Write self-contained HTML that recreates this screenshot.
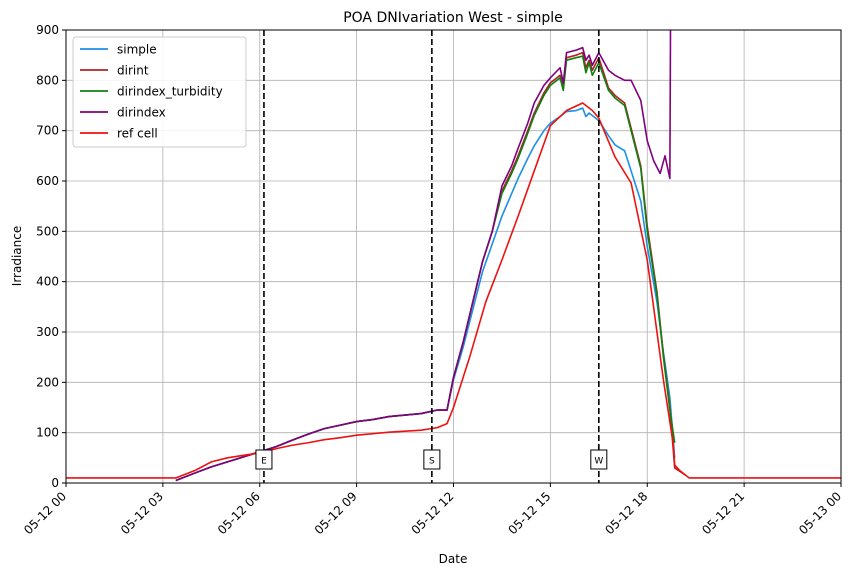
<!DOCTYPE html>
<html><head><meta charset="utf-8"><style>
body{margin:0;background:#fff;font-family:"Liberation Sans","DejaVu Sans",sans-serif}
svg text{font-family:"DejaVu Sans","Liberation Sans",sans-serif}
</style></head><body>
<svg id="chart" width="850" height="576" viewBox="0 0 850 576" xmlns="http://www.w3.org/2000/svg">
<rect width="850" height="576" fill="#fff"/>
<g id="grid"></g>
<g id="series"></g>
<g id="markers"></g>
<rect x="66" y="30" width="775" height="453" fill="none" stroke="#000" stroke-width="1"/>
<g id="axes"></g>
<text x="453" y="22" text-anchor="middle" font-size="14">POA DNIvariation West - simple</text>
<text x="453" y="563" text-anchor="middle" font-size="12">Date</text>
<text transform="translate(21,256) rotate(-90)" text-anchor="middle" font-size="12">Irradiance</text>
<g id="legend"></g>
</svg>
<script>
const xTicks=[0,3,6,9,12,15,18,21,24];
const xTickLabels=["05-12 00","05-12 03","05-12 06","05-12 09","05-12 12","05-12 15","05-12 18","05-12 21","05-13 00"];
const yTicks=[0,100,200,300,400,500,600,700,800,900];
const seriesNames=["simple","dirint","dirindex_turbidity","dirindex","ref cell"];
const seriesColors=["#1f8fe6","#b22222","#108010","#800080","#ee1111"];
const markerTimes=[6.13,11.33,16.5];
const markerLabels=["E","S","W"];
const tCommon=[3.4,4,4.5,5,5.5,6,6.5,7,7.5,8,8.5,9,9.5,10,10.5,11,11.5,11.8];
const vCommon=[5,20,32,42,52,62,72,85,97,108,115,122,126,132,135,138,145,145];
const tRise=[12,12.3,12.6,12.9,13.2];
const riseA=[210,280,360,440,500];
const riseSimple=[205,270,345,420,475];
const simpleT=[13.5,13.8,14,14.3,14.5,14.8,15,15.3,15.5,15.8,16,16.1,16.2,16.5,16.8,17,17.3,17.5,17.8,18,18.3,18.5,18.7,18.85];
const simpleV=[530,575,605,645,670,700,715,728,738,740,745,728,735,720,690,672,660,620,560,470,360,260,170,50];
const dirT=[13.5,13.8,14,14.3,14.5,14.8,15,15.3,15.4,15.5,15.8,16,16.1,16.2,16.3,16.5,16.8,17,17.3,17.5,17.8,18,18.3,18.5,18.7,18.85];
const dirintV=[580,620,650,700,735,775,795,810,785,845,850,855,825,840,820,845,785,770,755,705,630,510,380,255,150,30];
const turbV=[575,615,645,695,730,770,790,805,780,840,845,848,815,835,810,835,780,765,750,700,625,500,375,250,145,80];
const dirindexT=[13.5,13.8,14,14.3,14.5,14.8,15,15.3,15.4,15.5,15.8,16,16.1,16.2,16.3,16.5,16.8,17,17.3,17.5,17.8,18,18.2,18.4,18.55,18.7,18.72];
const dirindexV=[590,630,665,715,755,790,805,825,795,855,860,865,840,850,830,855,820,810,800,800,760,680,640,615,650,605,900];
const refT=[0,3.4,4,4.5,5,5.5,6,6.5,7,7.5,8,8.5,9,9.5,10,10.5,11,11.5,11.8,12,12.5,13,13.5,14,14.5,15,15.5,16,16.3,16.5,17,17.5,18,18.5,18.8,18.85,19.0,19.3,24];
const refV=[10,10,25,42,50,55,60,68,75,80,86,90,95,98,101,103,105,110,118,150,250,360,443,530,620,710,740,755,740,725,648,596,443,205,80,36,25,10,10];
const brownTail=[[19.2,15]];

const X0=66,X1=841,Y0=483,Y1=30;
const sx=t=>X0+(t/24)*(X1-X0);
const sy=v=>Y0-(Math.min(v,905)/900)*(Y0-Y1);
const NS="http://www.w3.org/2000/svg";
function mk(tag,attrs,parent){const e=document.createElementNS(NS,tag);for(const k in attrs)e.setAttribute(k,attrs[k]);parent.appendChild(e);return e;}
const grid=document.getElementById('grid'),axes=document.getElementById('axes');
xTicks.forEach((t,i)=>{
  const l=mk('line',{x1:sx(t),x2:sx(t),y1:Y1,y2:Y0,stroke:'#b0b0b0','stroke-width':0.8},grid);
  
  
  mk('line',{x1:sx(t),x2:sx(t),y1:Y0,y2:Y0+4,stroke:'#000'},axes);
  const tx=mk('text',{x:sx(t)+1,y:Y0+14,'font-size':12,'text-anchor':'end',transform:`rotate(-45 ${sx(t)+1} ${Y0+14})`},axes);
  tx.textContent=xTickLabels[i];
  
  
});
yTicks.forEach(v=>{
  const l=mk('line',{x1:X0,x2:X1,y1:sy(v),y2:sy(v),stroke:'#b0b0b0','stroke-width':0.8},grid);
  
  
  mk('line',{x1:X0-4,x2:X0,y1:sy(v),y2:sy(v),stroke:'#000'},axes);
  const tx=mk('text',{x:X0-7,y:sy(v)+4,'font-size':12,'text-anchor':'end'},axes);
  tx.textContent=v;
  
  
});
function build(rise,tailT,tailV,extra){
  const pts=[];tCommon.forEach((t,i)=>pts.push([t,vCommon[i]]));
  tRise.forEach((t,i)=>pts.push([t,rise[i]]));
  tailT.forEach((t,i)=>pts.push([t,tailV[i]]));
  (extra||[]).forEach(p=>pts.push(p));
  return pts;
}
const refPts=refT.map((t,i)=>[t,refV[i]]);
const data=[build(riseSimple,simpleT,simpleV),build(riseA,dirT,dirintV,brownTail),build(riseA,dirT,turbV),build(riseA,dirindexT,dirindexV),refPts];
const sg=document.getElementById('series');
data.forEach((pts,i)=>{
  const p=mk('polyline',{points:pts.map(p=>sx(p[0])+','+sy(p[1])).join(' '),fill:'none',stroke:seriesColors[i],'stroke-width':1.6,'stroke-linejoin':'round'},sg);
  
  
});
const mg=document.getElementById('markers');
markerTimes.forEach((t,i)=>{
  const l=mk('line',{x1:sx(t),x2:sx(t),y1:Y1,y2:Y0,stroke:'#000','stroke-width':1.6,'stroke-dasharray':'6,3'},mg);
  
  
  const r=mk('rect',{x:sx(t)-8,y:450,width:16,height:19,fill:'#fff',stroke:'#000'},mg);
  
  
  const tx=mk('text',{x:sx(t),y:463.5,'font-size':9,'text-anchor':'middle'},mg);
  tx.textContent=markerLabels[i];
  
  
});
const lg=document.getElementById('legend');
mk('rect',{x:73,y:37,width:173,height:110,rx:3,fill:'#fff','fill-opacity':0.85,stroke:'#ccc'},lg);
seriesNames.forEach((n,i)=>{
  const y=49+i*21;
  const l=mk('line',{x1:80,x2:108,y1:y,y2:y,stroke:seriesColors[i],'stroke-width':1.8},lg);
  
  
  const tx=mk('text',{x:117,y:y+4.5,'font-size':12},lg);
  tx.textContent=n;
  
  
});
</script>
</body></html>
